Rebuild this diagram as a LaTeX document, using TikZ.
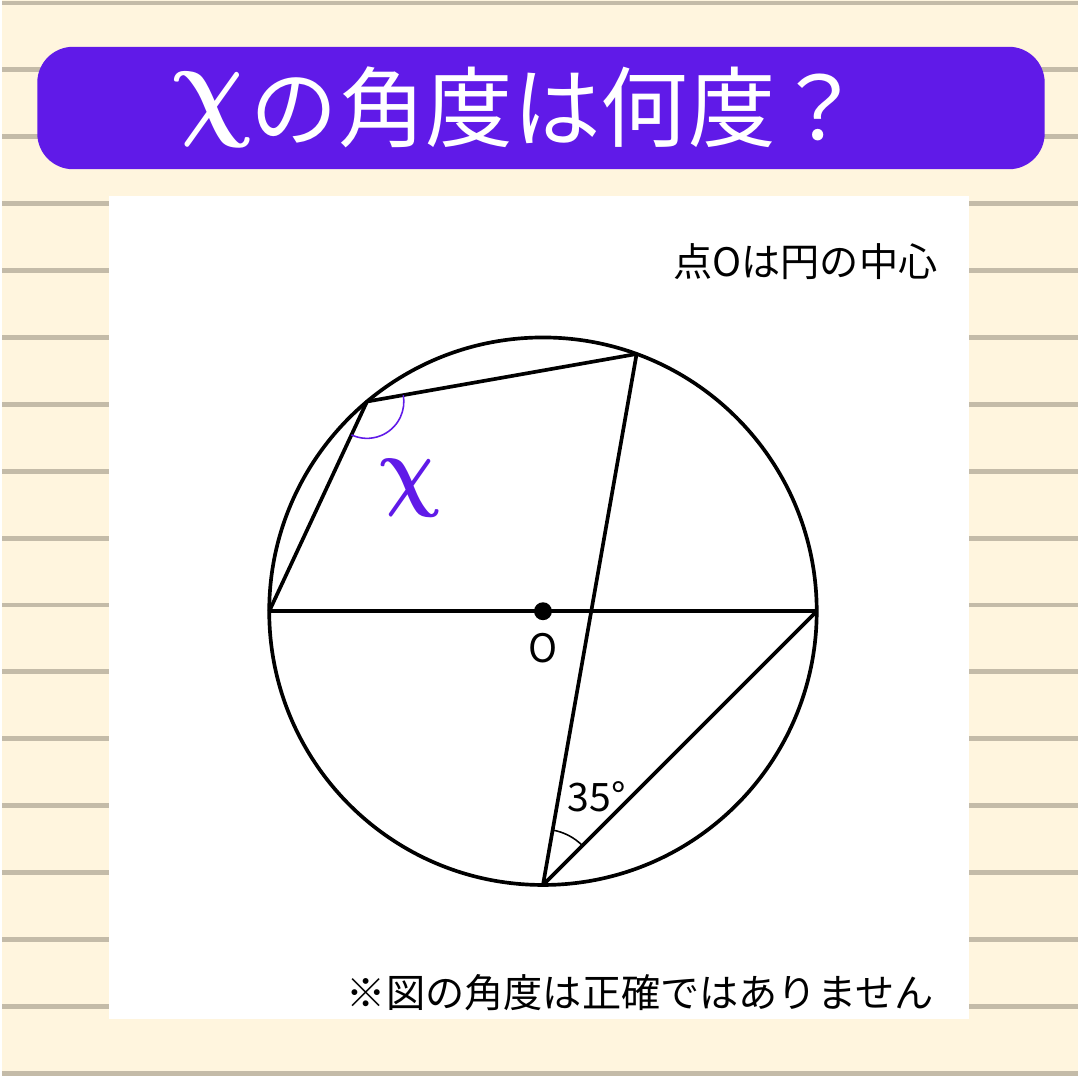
\documentclass[tikz,border=0pt]{standalone}
\usepackage{fontspec}
\usepackage{bm}
\newfontfamily\jp{Noto Sans CJK JP}
\definecolor{paper}{HTML}{FFF5DE}
\definecolor{rule}{HTML}{C4BBA8}
\definecolor{violet}{HTML}{601AE8}
\newcommand{\chiglyph}{\bm{\chi}}
\tikzset{
  note/.style={font=\jp\fontsize{11.2}{13}\selectfont, inner sep=0pt},
  fig/.style={line width=1.05pt, black},
  chinode/.style={inner sep=0pt, xslant=-0.18, transform shape}
}
\begin{document}
\begin{tikzpicture}
% paper and ruled lines
\fill[paper] (-5.43, -4.66) rectangle (5.37, 6.14);
\foreach \k in {0,...,16}
  \draw[rule, line width=1.4pt] (-5.43, 6.11-0.672*\k) -- (5.37, 6.11-0.672*\k);
\useasboundingbox (-5.43, -4.66) rectangle (5.37, 6.14);
% title
\fill[violet, rounded corners=0.36cm] (-5.08, 4.44) rectangle (5.04, 5.67);
\node[text=white, inner sep=0pt] (title) at (0.14, 5.06)
  {\jp\fontsize{25}{28}\selectfont の角度は何度？};
\node[chinode, text=white] (titlechi) at (-3.32, 5.04)
  {\fontsize{25}{28}\selectfont\scalebox{1.2}[1.35]{$\chiglyph$}};
% white panel
\fill[white] (-4.36, -4.10) rectangle (4.28, 4.17);
\node[note, anchor=east] (given) at (3.97, 3.51) {点Oは円の中心};
\node[note, anchor=east] (warn) at (3.93, -3.83) {※図の角度は正確ではありません};
% circle and chords
\coordinate (O) at (0, 0);
\coordinate (A) at (130:2.75);
\coordinate (B) at (70:2.75);
\coordinate (C) at (180:2.75);
\coordinate (D) at (0:2.75);
\coordinate (E) at (270:2.75);
\draw[fig] (O) circle (2.75);
\draw[fig] (C) -- (D);
\draw[fig, line join=round] (C) -- (A) -- (B) -- (E) -- (D);
\fill (O) circle (0.09);
\node[note] (olabel) at (0, -0.37) {O};
% angles
\draw[violet, line width=0.45pt] (A) ++(245:0.37) arc[start angle=245, end angle=370, radius=0.37];
\draw[black, line width=0.45pt] (E) ++(45:0.56) arc[start angle=45, end angle=80, radius=0.56];
\node[chinode, violet] (xlabel) at (-1.33, 1.24)
  {\fontsize{22}{26}\selectfont\scalebox{1.1}[1.25]{$\chiglyph$}};
\node[note] (deg) at (0.54, -1.86) {35°};
\end{tikzpicture}
\end{document}
